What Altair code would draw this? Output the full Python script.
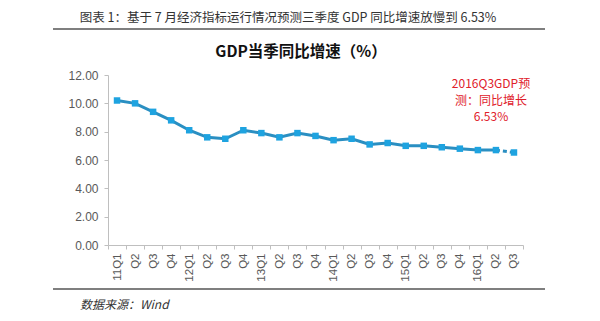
import altair as alt
import pandas as pd

labels = ["11Q1", "Q2", "Q3", "Q4", "12Q1", "Q2", "Q3", "Q4", "13Q1", "Q2", "Q3", "Q4",
          "14Q1", "Q2", "Q3", "Q4", "15Q1", "Q2", "Q3", "Q4", "16Q1", "Q2", "Q3"]
values = [10.2, 10.0, 9.4, 8.8, 8.1, 7.6, 7.5, 8.1, 7.9, 7.6, 7.9, 7.7,
          7.4, 7.5, 7.1, 7.2, 7.0, 7.0, 6.9, 6.8, 6.7, 6.7, 6.53]
y_ticks = [0, 2, 4, 6, 8, 10, 12]
annotation_lines = ["2016Q3GDP预", "测：同比增长", "6.53%"]
main_title = "图表 1：基于 7 月经济指标运行情况预测三季度 GDP 同比增速放慢到 6.53%"
chart_title = "GDP当季同比增速（%）"
source_text = "数据来源：Wind"

n = len(labels)
df = pd.DataFrame({"idx": list(range(n)), "label": labels, "value": values})
one = pd.DataFrame({"k": [0]})
label_expr = "[" + ",".join(f"'{l}'" for l in labels) + "][datum.value]"

LINE_C = "#2a8fc2"
PT_C = "#1ea3e0"
FONT = "Noto Sans CJK SC"

x_enc = alt.X("idx:O", title=None,
              scale=alt.Scale(paddingInner=0, paddingOuter=0),
              axis=alt.Axis(labelExpr=label_expr, labelAngle=270, labelFontSize=11.5,
                            labelColor="#595959", labelFont="Liberation Sans",
                            domainColor="#bfbfbf", tickColor="#bfbfbf", tickSize=4,
                            tickBand="extent", labelPadding=4, grid=False))
y_enc = alt.Y("value:Q", title=None,
              scale=alt.Scale(domain=[0, 12], nice=False, zero=True),
              axis=alt.Axis(values=y_ticks, format=".2f", labelFontSize=12,
                            labelColor="#595959", labelFont="Liberation Sans",
                            domainColor="#bfbfbf", tickColor="#bfbfbf", tickSize=4,
                            labelPadding=6, grid=False))

base = alt.Chart(df)
solid = base.transform_filter(alt.datum.idx <= n - 2).mark_line(
    color=LINE_C, strokeWidth=3).encode(x=x_enc, y=y_enc)
dashed = base.transform_filter(alt.datum.idx >= n - 2).mark_line(
    color=LINE_C, strokeWidth=3, strokeDash=[4, 3]).encode(x=x_enc, y=y_enc)
points = base.mark_square(color=PT_C, size=42, opacity=1).encode(x=x_enc, y=y_enc)


def deco_text(text, x, y, **kw):
    return alt.Chart(one).mark_text(text=text, font=FONT, baseline="middle", **kw).encode(
        x=alt.value(x), y=alt.value(y))


ann_layers = [deco_text(t, 383, 9 + 16.5 * i, color="#e0202a", fontSize=12,
                        align="center")
              for i, t in enumerate(annotation_lines)]

top_title = deco_text(main_title, 180, -57, fontSize=12.5, color="#333333",
                      align="center", fontWeight="normal")
ch_title = deco_text(chart_title, 193, -23, fontSize=15.5, fontWeight="bold",
                     color="#111111", align="center")
src = deco_text(source_text, -28, 230, fontSize=12, fontStyle="italic",
                color="#333333", align="left")
top_rule = alt.Chart(one).mark_rule(color="#555555", strokeWidth=1.3).encode(
    x=alt.value(-55), x2=alt.value(437), y=alt.value(-46))
bot_rule = alt.Chart(one).mark_rule(color="#555555", strokeWidth=1.3).encode(
    x=alt.value(-55), x2=alt.value(437), y=alt.value(214))

chart = alt.layer(solid, dashed, points, *ann_layers, top_title, ch_title, src,
                  top_rule, bot_rule).properties(
    width=415, height=170,
    padding={"left": 108, "top": 75, "right": 77, "bottom": 76},
    autosize=alt.AutoSizeParams(type="none"),
    background="white",
).configure_view(stroke=None)

chart.save("out.html", embed_options={"renderer": "svg", "actions": False})
